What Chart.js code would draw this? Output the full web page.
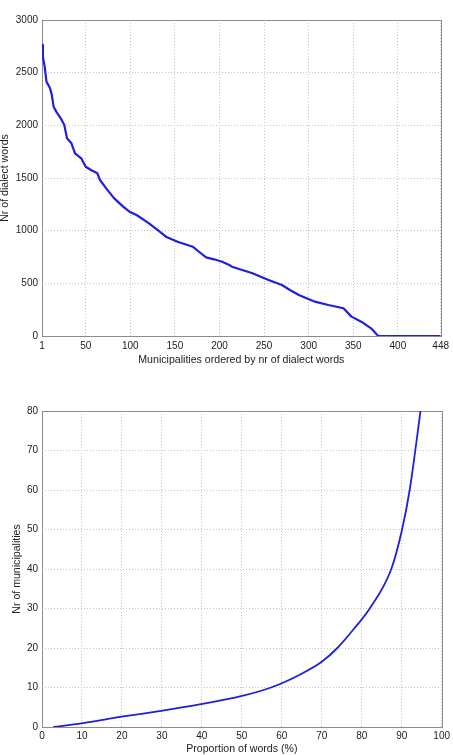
<!DOCTYPE html>
<html>
<head>
<meta charset="utf-8">
<script src="https://cdn.jsdelivr.net/npm/chart.js@4"></script>
<style>
  html, body { margin: 0; padding: 0; background: #fff; }
  body { width: 453px; height: 755px; position: relative; overflow: hidden; }
  .box { position: absolute; left: 0; width: 453px; }
  #b1 { top: 0; height: 375px; }
  #b2 { top: 380px; height: 375px; }
</style>
</head>
<body>
<div class="box" id="b1"><canvas id="c1"></canvas></div>
<div class="box" id="b2"><canvas id="c2"></canvas></div>
<script>
// ---- Top chart data ----
const munIndex = [1, 2, 4, 6, 10, 12, 14, 17, 22, 26, 29, 34, 38, 45, 50, 56, 63, 66, 73, 82, 92, 99, 107, 121, 133, 140, 153, 170, 177, 185, 194, 203, 211, 214, 237, 255, 270, 279, 289, 307, 322, 339, 348, 359, 370, 378, 448];
const dialectWords = [2765, 2652, 2557, 2415, 2352, 2288, 2177, 2130, 2067, 2003, 1877, 1829, 1734, 1687, 1607, 1576, 1545, 1481, 1402, 1307, 1228, 1180, 1149, 1070, 990, 943, 895, 848, 800, 747, 728, 705, 674, 658, 595, 532, 484, 437, 389, 326, 294, 263, 184, 136, 73, 0, 0];
const topXTicks = [1, 50, 100, 150, 200, 250, 300, 350, 400, 448];
const topYTicks = [0, 500, 1000, 1500, 2000, 2500, 3000];

// ---- Bottom chart data ----
const proportion = [2.8, 9.9, 19.9, 29.8, 39.8, 49.8, 57.3, 65.0, 70.0, 73.9, 78.0, 82.0, 87.4, 90.1, 92.0, 93.4, 94.7];
const nrMunicipalities = [0, 0.9, 2.6, 4.1, 5.8, 7.8, 10.0, 13.5, 16.5, 20.0, 24.8, 30.0, 40.0, 50.0, 60.0, 70.0, 80.0];
const botXTicks = [0, 10, 20, 30, 40, 50, 60, 70, 80, 90, 100];
const botYTicks = [0, 10, 20, 30, 40, 50, 60, 70, 80];

const FONT = 'Liberation Sans, Arial, Helvetica, sans-serif';
const TXT = '#222222';
const GRID = '#c4c4c4';
const LINE = '#1f1fe0';

const frame = {
  id: 'frame',
  beforeDatasetsDraw(chart) {
    const a = chart.chartArea, ctx = chart.ctx;
    ctx.save();
    ctx.strokeStyle = '#8c8c8c';
    ctx.lineWidth = 1;
    ctx.strokeRect(Math.round(a.left) + 0.5, Math.round(a.top) + 0.5,
                   Math.round(a.right - a.left), Math.round(a.bottom - a.top));
    ctx.restore();
  }
};

function makeChart(id, xs, ys, xTicks, yTicks, xTitle, yTitle, o) {
  const pts = xs.map((x, i) => ({ x: x, y: ys[i] }));
  return new Chart(document.getElementById(id), {
    type: 'line',
    data: { datasets: [{ data: pts, borderColor: LINE, borderWidth: o.lw, pointRadius: 0,
                          tension: o.tension, cubicInterpolationMode: o.mono ? 'monotone' : 'default',
                          fill: false }] },
    options: {
      responsive: true, maintainAspectRatio: false, animation: false,
      layout: { padding: { top: o.padTop, right: 10, left: 0, bottom: 0 } },
      plugins: { legend: { display: false }, tooltip: { enabled: false } },
      scales: {
        x: {
          type: 'linear', min: xTicks[0], max: xTicks[xTicks.length - 1],
          afterBuildTicks: s => { s.ticks = xTicks.map(v => ({ value: v })); },
          afterFit: s => { s.height = o.xH; },
          grid: { color: GRID, drawTicks: false },
          border: { display: false, dash: [1, 2] },
          ticks: { padding: o.xPad, color: TXT, font: { family: FONT, size: 10 }, maxRotation: 0, autoSkip: false,
                   callback: v => String(v) },
          title: { display: true, text: xTitle, color: TXT, font: { family: FONT, size: 10.6 }, padding: { top: 0, bottom: o.xTitlePad } }
        },
        y: {
          type: 'linear', min: yTicks[0], max: yTicks[yTicks.length - 1],
          afterBuildTicks: s => { s.ticks = yTicks.map(v => ({ value: v })); },
          afterFit: s => { s.width = 42; },
          grid: { color: GRID, drawTicks: false },
          border: { display: false, dash: [1, 2] },
          ticks: { padding: 4, color: TXT, font: { family: FONT, size: 10 }, autoSkip: false,
                   callback: v => String(v) },
          title: { display: true, text: yTitle, color: TXT, font: { family: FONT, size: 10.6 }, padding: { top: o.yTitlePad, bottom: 0 } }
        }
      }
    },
    plugins: [frame]
  });
}

Chart.defaults.elements.line.borderJoinStyle = 'round';

const c1 = makeChart('c1', munIndex, dialectWords, topXTicks, topYTicks,
  'Municipalities ordered by nr of dialect words', 'Nr of dialect words',
  { padTop: 20, xH: 39, xPad: 4, xTitlePad: 9, yTitlePad: -1, tension: 0, mono: false, lw: 2.2 });
const c2 = makeChart('c2', proportion, nrMunicipalities, botXTicks, botYTicks,
  'Proportion of words (%)', 'Nr of municipalities',
  { padTop: 31, xH: 28, xPad: 3, xTitlePad: 0, yTitlePad: 11, tension: 0.4, mono: true, lw: 1.8 });
</script>
</body>
</html>
